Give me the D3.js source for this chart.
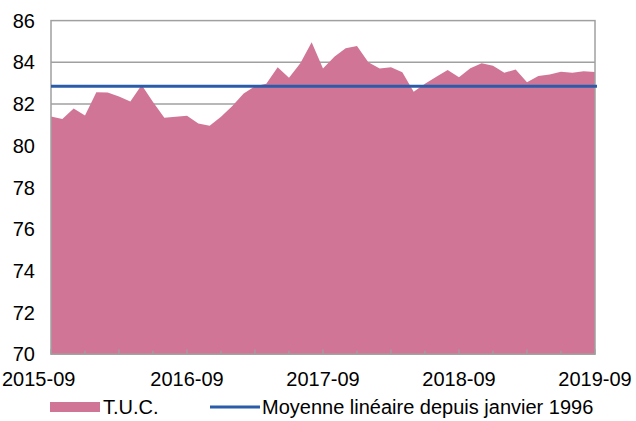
<!DOCTYPE html>
<html>
<head>
<meta charset="utf-8">
<script src="https://cdn.jsdelivr.net/npm/d3@7"></script>
<style>
  body { margin: 0; background: #fff; }
  text { font-family: "Liberation Sans", Arial, sans-serif; fill: #000; }
</style>
</head>
<body>
<div id="chart"></div>
<script>
// monthly values, 2015-09 .. 2019-09
const tucValues = [
  81.40, 81.28, 81.79, 81.45, 82.56, 82.55, 82.36, 82.12, 82.91, 82.10,
  81.34, 81.39, 81.44, 81.07, 80.96, 81.39, 81.90, 82.50, 82.85, 82.97,
  83.76, 83.26, 83.95, 84.96, 83.70, 84.27, 84.67, 84.78, 84.00, 83.70,
  83.76, 83.52, 82.59, 82.97, 83.31, 83.63, 83.28, 83.71, 83.95, 83.84,
  83.50, 83.66, 83.04, 83.34, 83.42, 83.55, 83.50, 83.57, 83.53
];
const meanValue = 82.85;
const xLabels = ['2015-09', '2016-09', '2017-09', '2018-09', '2019-09'];
const yTicks = [70, 72, 74, 76, 78, 80, 82, 84, 86];
const legendLabels = ['T.U.C.', 'Moyenne linéaire depuis janvier 1996'];

const width = 636, height = 421;
const margin = { top: 20.6, right: 41, bottom: 66.8, left: 51 };
const innerW = width - margin.left - margin.right;
const innerH = height - margin.top - margin.bottom;

const pink = '#d17596';
const blue = '#2a5caa';
const grey = '#a0a0a0';
const fontSize = '20px';

const data = tucValues.map((v, i) => ({ i: i, v: v }));

const svg = d3.select('#chart')
  .append('svg')
  .attr('width', width)
  .attr('height', height);

const g = svg.append('g')
  .attr('transform', 'translate(' + margin.left + ',' + margin.top + ')');

const x = d3.scaleLinear()
  .domain([0, tucValues.length - 1])
  .range([0, innerW]);

const y = d3.scaleLinear()
  .domain([70, 86])
  .range([innerH, 0]);

// gridlines
g.selectAll('.grid')
  .data(yTicks.slice(1, -1))
  .join('line')
  .attr('class', 'grid')
  .attr('x1', 0)
  .attr('x2', innerW)
  .attr('y1', d => y(d))
  .attr('y2', d => y(d))
  .attr('stroke', grey)
  .attr('stroke-width', 1.5);

// area
const area = d3.area()
  .x(d => x(d.i))
  .y0(y(70))
  .y1(d => y(d.v));

g.append('path')
  .datum(data)
  .attr('d', area)
  .attr('fill', pink);

// plot frame
g.append('rect')
  .attr('x', 0)
  .attr('y', 0)
  .attr('width', innerW)
  .attr('height', innerH)
  .attr('fill', 'none')
  .attr('stroke', grey)
  .attr('stroke-width', 1.5);

// x tick marks every 3 months
const tickIdx = d3.range(0, tucValues.length, 3);
g.selectAll('.xtick')
  .data(tickIdx)
  .join('line')
  .attr('class', 'xtick')
  .attr('x1', d => x(d))
  .attr('x2', d => x(d))
  .attr('y1', innerH)
  .attr('y2', d => innerH - (d % 6 === 0 ? 5 : 3.5))
  .attr('stroke', grey)
  .attr('stroke-width', 1.2);

// mean line
g.append('line')
  .attr('x1', 0)
  .attr('x2', innerW + 2)
  .attr('y1', y(meanValue))
  .attr('y2', y(meanValue))
  .attr('stroke', blue)
  .attr('stroke-width', 3);

// y labels
g.selectAll('.ylab')
  .data(yTicks)
  .join('text')
  .attr('class', 'ylab')
  .attr('x', -16)
  .attr('y', d => y(d))
  .attr('dy', '0.36em')
  .attr('text-anchor', 'end')
  .style('font-size', fontSize)
  .text(d => d);

// x labels (one per year)
g.selectAll('.xlab')
  .data(xLabels)
  .join('text')
  .attr('class', 'xlab')
  .attr('x', (d, i) => i === 0 ? -49 : x(i * 12))
  .attr('y', innerH + 32)
  .attr('text-anchor', (d, i) => i === 0 ? 'start' : 'middle')
  .style('font-size', fontSize)
  .text(d => d);

// legend
const legend = svg.append('g').attr('transform', 'translate(0,407)');
legend.append('rect')
  .attr('x', 50).attr('y', -5)
  .attr('width', 50).attr('height', 10)
  .attr('fill', pink);
legend.append('text')
  .attr('x', 103).attr('y', 0).attr('dy', '0.36em')
  .style('font-size', fontSize)
  .text(legendLabels[0]);
legend.append('line')
  .attr('x1', 210).attr('x2', 260)
  .attr('y1', 0).attr('y2', 0)
  .attr('stroke', blue)
  .attr('stroke-width', 3);
legend.append('text')
  .attr('x', 262).attr('y', 0).attr('dy', '0.36em')
  .style('font-size', fontSize)
  .text(legendLabels[1]);
</script>
</body>
</html>
